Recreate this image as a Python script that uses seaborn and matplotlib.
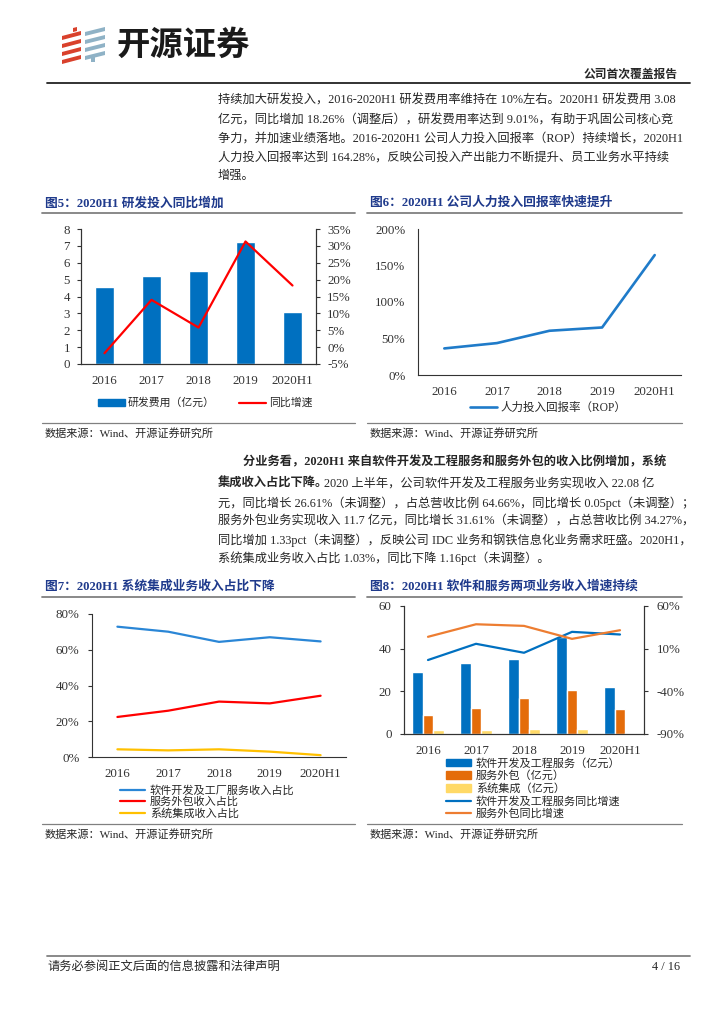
import numpy as np
import pandas as pd
import matplotlib
matplotlib.use('Agg')
import matplotlib.pyplot as plt
import seaborn as sns
from matplotlib.patches import Polygon, Patch
from matplotlib.lines import Line2D
from matplotlib.ticker import FuncFormatter

years = ['2016', '2017', '2018', '2019', '2020H1']

# 图5 研发费用（亿元）与同比增速（%）
rd_cost = [4.55, 5.21, 5.52, 7.25, 3.08]
rd_yoy = [-1.8, 14.0, 5.8, 31.3, 18.26]

# 图6 人力投入回报率（%）
rop = [36.4, 43.7, 60.6, 65.1, 164.28]

# 图7 收入占比（%）
share_soft = [72.9, 70.1, 64.4, 67.0, 64.66]
share_out = [22.4, 25.9, 31.0, 30.0, 34.27]
share_sys = [4.3, 3.7, 4.3, 3.0, 1.03]

# 图8 分业务收入（亿元）及同比增速（%）
rev_soft = [28.9, 33.3, 35.3, 45.7, 22.08]
rev_out = [8.9, 12.3, 17.0, 20.5, 11.7]
rev_sys = [1.7, 2.0, 2.5, 2.2, 0.6]
yoy_soft = [-3.3, 15.7, 5.2, 29.7, 26.61]
yoy_out = [23.9, 38.6, 36.7, 21.5, 31.61]

para1 = [
    '持续加大研发投入，2016-2020H1 研发费用率维持在 10%左右。2020H1 研发费用 3.08',
    '亿元，同比增加 18.26%（调整后），研发费用率达到 9.01%，有助于巩固公司核心竞',
    '争力，并加速业绩落地。2016-2020H1 公司人力投入回报率（ROP）持续增长，2020H1',
    '人力投入回报率达到 164.28%，反映公司投入产出能力不断提升、员工业务水平持续',
    '增强。',
]
para2 = [
    '元，同比增长 26.61%（未调整），占总营收比例 64.66%，同比增长 0.05pct（未调整）；',
    '服务外包业务实现收入 11.7 亿元，同比增长 31.61%（未调整），占总营收比例 34.27%，',
    '同比增加 1.33pct（未调整），反映公司 IDC 业务和钢铁信息化业务需求旺盛。2020H1，',
    '系统集成业务收入占比 1.03%，同比下降 1.16pct（未调整）。',
]

sns.set_style('white')
FONT = ['Liberation Serif', 'Noto Sans CJK SC']
plt.rcParams['font.family'] = FONT
plt.rcParams['axes.linewidth'] = 0.8
plt.rcParams['axes.edgecolor'] = '#333333'
plt.rcParams['xtick.color'] = '#333333'
plt.rcParams['ytick.color'] = '#333333'

W, H = 724, 1024
fig = plt.figure(figsize=(W / 100, H / 100), dpi=100)


def box(x0, y0, x1, y1):
    return [x0 / W, 1 - y1 / H, (x1 - x0) / W, (y1 - y0) / H]


pct = FuncFormatter(lambda v, p: f'{v:.0f}%')
NAVY = '#1F3A8C'
GRID = '#808080'
TICK = 9.3
LEG = 8

# page background layer in pixel coords
bg = fig.add_axes([0, 0, 1, 1])
bg.set_xlim(0, W)
bg.set_ylim(H, 0)
bg.axis('off')

# logo
def stripe(xl, xr, y, color):
    bg.add_patch(Polygon([(xl, y + 5), (xr, y), (xr, y + 4), (xl, y + 9)],
                         closed=True, color=color, lw=0))

for y in [31, 39, 47, 55]:
    stripe(62, 81, y, '#D9412C')
bg.add_patch(Polygon([(73, 28), (77, 27), (77, 31), (73, 32)], color='#D9412C', lw=0))
for y in [27, 35, 43, 51]:
    stripe(85, 105, y, '#8FB2C6')
bg.add_patch(Polygon([(91, 56), (95, 56), (95, 62), (91, 62)], color='#8FB2C6', lw=0))
bg.text(117, 45, '开源证券', fontsize=24, weight='bold', va='center', ha='left',
        family=['Noto Sans CJK SC'], color='#1A1A1A')
bg.text(678, 75, '公司首次覆盖报告', fontsize=8.5, weight='bold', va='center', ha='right')
bg.plot([47, 690], [83, 83], color='#222222', lw=1.3)

for i, line in enumerate(para1):
    bg.text(218, [100, 120, 139, 158, 176][i], line, fontsize=8.8, va='center')

bg.text(243, 462, '分业务看，2020H1 来自软件开发及工程服务和服务外包的收入比例增加，系统',
        fontsize=8.8, va='center', weight='bold')
t = bg.text(218, 484, '集成收入占比下降。', fontsize=8.8, va='center', weight='bold')
fig.canvas.draw()
bb = t.get_window_extent()
x_end = bg.transData.inverted().transform((bb.x1, bb.y0))[0]
bg.text(x_end - 4, 484, '2020 上半年，公司软件开发及工程服务业务实现收入 22.08 亿',
        fontsize=8.8, va='center')
for i, line in enumerate(para2):
    bg.text(218, [503, 521, 540, 558][i], line, fontsize=8.8, va='center')

# chart titles, rules and sources
for x0, x1, yt, yl, ys, title in [
        (45, 355, 203, 213, 423, '图5：2020H1 研发投入同比增加'),
        (370, 682, 203, 213, 423, '图6：2020H1 公司人力投入回报率快速提升'),
        (45, 355, 586, 597, 824, '图7：2020H1 系统集成业务收入占比下降'),
        (370, 682, 586, 597, 824, '图8：2020H1 软件和服务两项业务收入增速持续')]:
    bg.text(x0, yt, title, fontsize=9.2, weight='bold', color=NAVY, va='center')
    bg.plot([x0 - 3, x1], [yl, yl], color=GRID, lw=1.3)
    bg.plot([x0 - 3, x1], [ys, ys], color=GRID, lw=0.9)
    bg.text(x0, ys + 10, '数据来源：Wind、开源证券研究所', fontsize=8, va='center')

bg.plot([47, 690], [956, 956], color=GRID, lw=1.3)
bg.text(47, 967, '请务必参阅正文后面的信息披露和法律声明', fontsize=8.8, va='center')
bg.text(680, 967, '4 / 16', fontsize=8.8, va='center', ha='right')


def cat_axis(ax):
    ax.set_xlim(-0.5, len(years) - 0.5)
    ax.set_xticks(range(len(years)))
    ax.set_xticklabels(years)
    ax.set_xticks(np.arange(0.5, len(years) - 1, 1), minor=True)
    ax.tick_params(axis='x', which='major', length=0, pad=8, labelsize=TICK)
    ax.tick_params(axis='x', which='minor', length=3, direction='out', width=0.8)
    ax.set_xlabel('')


# 图5
ax = fig.add_axes(box(81, 229, 316, 364))
sns.barplot(x=years, y=rd_cost, color='#0070C0', saturation=1, width=0.42, ax=ax)
ax2 = ax.twinx()
sns.lineplot(x=np.arange(len(years)), y=rd_yoy, color='#FF0000', lw=1.6, ax=ax2)
ax.set_ylim(0, 8)
ax.set_yticks(range(0, 9))
ax2.set_ylim(-5, 35)
ax2.set_yticks(range(-5, 36, 5))
ax2.yaxis.set_major_formatter(pct)
cat_axis(ax)
ax2.set_xlim(-0.5, len(years) - 0.5)
ax.tick_params(axis='y', length=3, direction='out', pad=5, labelsize=TICK, left=True)
ax2.tick_params(axis='y', length=3, direction='out', pad=5, labelsize=TICK, right=True)
for a in (ax, ax2):
    a.spines['top'].set_visible(False)
    a.set_ylabel('')
fig.legend([Patch(color='#0070C0'), Line2D([], [], color='#FF0000', lw=1.6)],
           ['研发费用（亿元）', '同比增速'], loc='center', ncol=2, frameon=False,
           bbox_to_anchor=(205 / W, 1 - 403 / H), fontsize=7.8, handlelength=2.5,
           handleheight=0.6, columnspacing=2.2, handletextpad=0.3)

# 图6
ax = fig.add_axes(box(418, 229, 681, 375))
sns.lineplot(x=np.arange(len(years)), y=rop, color='#1F7BC9', lw=1.9, ax=ax)
ax.set_ylim(0, 200)
ax.set_yticks(range(0, 201, 50))
ax.yaxis.set_major_formatter(pct)
cat_axis(ax)
ax.tick_params(axis='y', length=0, pad=9, labelsize=TICK)
sns.despine(ax=ax)
ax.set_ylabel('')
fig.legend([Line2D([], [], color='#1F7BC9', lw=1.9)], ['人力投入回报率（ROP）'],
           loc='center', frameon=False, bbox_to_anchor=(548 / W, 1 - 408 / H),
           fontsize=8.3, handlelength=2.4, handletextpad=0.3)

# 图7
ax = fig.add_axes(box(92, 614, 346, 757))
for vals, col in [(share_soft, '#2A86D6'), (share_out, '#FF0000'), (share_sys, '#FFC000')]:
    sns.lineplot(x=np.arange(len(years)), y=vals, color=col, lw=1.6, ax=ax)
ax.set_ylim(0, 80)
ax.set_yticks(range(0, 81, 20))
ax.yaxis.set_major_formatter(pct)
cat_axis(ax)
ax.tick_params(axis='y', length=3, direction='out', pad=6, labelsize=TICK, left=True)
sns.despine(ax=ax)
ax.set_ylabel('')
fig.legend([Line2D([], [], color=c, lw=1.6) for c in ['#2A86D6', '#FF0000', '#FFC000']],
           ['软件开发及工厂服务收入占比', '服务外包收入占比', '系统集成收入占比'],
           loc='upper left', frameon=False, bbox_to_anchor=(112 / W, 1 - 777 / H),
           fontsize=LEG, handlelength=2.3, handletextpad=0.4, labelspacing=0.1,
           borderpad=0.2)

# 图8
names = ['软件开发及工程服务（亿元）', '服务外包（亿元）', '系统集成（亿元）']
df8 = pd.DataFrame({
    'year': years * 3,
    'value': rev_soft + rev_out + rev_sys,
    'series': [n for n in names for _ in years],
})
bar_cols = ['#0070C0', '#E46C0A', '#FFD966']
ax = fig.add_axes(box(404, 606, 644, 734))
sns.barplot(data=df8, x='year', y='value', hue='series', palette=bar_cols,
            saturation=1, width=0.67, legend=False, ax=ax)
ax2 = ax.twinx()
sns.lineplot(x=np.arange(len(years)), y=yoy_soft, color='#0070C0', lw=1.6, ax=ax2)
sns.lineplot(x=np.arange(len(years)), y=yoy_out, color='#ED7D31', lw=1.6, ax=ax2)
ax.set_ylim(0, 60)
ax.set_yticks(range(0, 61, 20))
ax2.set_ylim(-90, 60)
ax2.set_yticks(range(-90, 61, 50))
ax2.yaxis.set_major_formatter(pct)
cat_axis(ax)
ax2.set_xlim(-0.5, len(years) - 0.5)
ax.tick_params(axis='y', length=3, direction='out', pad=6, labelsize=TICK, left=True)
ax2.tick_params(axis='y', length=3, direction='out', pad=6, labelsize=TICK, right=True)
for a in (ax, ax2):
    a.spines['top'].set_visible(False)
    a.set_ylabel('')
handles = [Patch(color=c) for c in bar_cols] + \
    [Line2D([], [], color=c, lw=1.6) for c in ['#0070C0', '#ED7D31']]
fig.legend(handles, names + ['软件开发及工程服务同比增速', '服务外包同比增速'],
           loc='upper left', frameon=False, bbox_to_anchor=(438 / W, 1 - 750 / H),
           fontsize=LEG, handlelength=2.3, handleheight=0.7, handletextpad=0.4,
           labelspacing=0.18, borderpad=0.2)

fig.savefig('out.png', dpi=100)
